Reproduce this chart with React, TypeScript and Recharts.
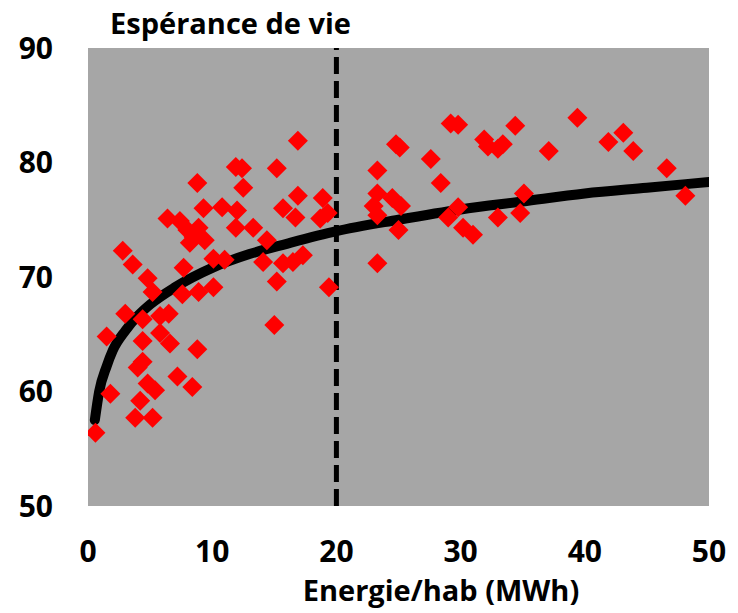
import React from 'react';
import { ComposedChart, Scatter, Line, XAxis, YAxis, CartesianGrid, ReferenceLine } from 'recharts';

// énergie par habitant (MWh) et espérance de vie (ans)
const energy = [
  11.9, 12.4, 8.8, 12.5, 6.4, 9.3, 10.8, 12.0, 7.4, 8.0, 8.9, 8.5, 9.4, 8.2, 11.9, 13.3,
  2.8, 3.6, 4.8, 7.7, 10.1, 11.0, 5.2, 7.6, 8.9, 10.1, 3.0, 4.4, 5.8, 6.5, 1.5, 5.8,
  4.4, 6.6, 8.8, 4.4, 4.0, 7.2, 4.8, 5.4, 8.4, 4.2, 1.8, 3.8, 5.2, 0.6,
  16.9, 15.2, 14.4, 16.9, 18.9, 15.7, 16.7, 18.7, 19.3, 14.1, 15.7, 16.5, 17.3, 15.2, 19.4, 15.0,
  23.3, 24.8, 25.1, 23.3, 23.0, 24.5, 25.2, 23.3, 25.0, 23.3, 27.6, 28.4,
  29.2, 29.8, 34.4, 39.4, 31.9, 32.2, 33.0, 33.4, 37.1, 41.9, 43.1, 43.9, 46.6, 48.1,
  35.1, 29.8, 29.0, 30.2, 31.0, 33.0, 34.8,
];
const lifeExp = [
  79.6, 79.5, 78.2, 77.8, 75.1, 76.0, 76.1, 75.8, 74.9, 74.1, 74.3, 73.5, 73.2, 73.0, 74.3, 74.3,
  72.3, 71.1, 69.9, 70.8, 71.6, 71.5, 68.7, 68.5, 68.7, 69.1, 66.8, 66.3, 66.6, 66.8, 64.8, 65.1,
  64.4, 64.2, 63.7, 62.6, 62.1, 61.3, 60.7, 60.1, 60.4, 59.2, 59.8, 57.7, 57.7, 56.4,
  81.9, 79.5, 73.2, 77.1, 76.9, 76.0, 75.2, 75.1, 75.6, 71.3, 71.2, 71.3, 71.9, 69.6, 69.1, 65.8,
  79.3, 81.6, 81.3, 77.3, 76.2, 76.9, 76.2, 75.4, 74.1, 71.2, 80.3, 78.2,
  83.4, 83.3, 83.2, 83.9, 82.0, 81.4, 81.2, 81.6, 81.0, 81.8, 82.6, 81.0, 79.5, 77.1,
  77.3, 76.1, 75.2, 74.3, 73.7, 75.2, 75.6,
];

// courbe de tendance
const fitEnergy = [0.55, 0.9, 1.5, 2, 3, 4, 5, 7, 10, 13, 16, 20, 25, 30, 35, 40, 45, 50];
const fitLife = [57.5, 60.0, 62.2, 63.6, 65.3, 66.6, 67.6, 69.1, 70.8, 72.0, 72.9, 74.0, 75.0, 75.9, 76.6, 77.3, 77.8, 78.3];

const xTicks = [0, 10, 20, 30, 40, 50];
const yTicks = [50, 60, 70, 80, 90];

const points = energy.map((x, i) => ({ x, y: lifeExp[i] }));
const fit = fitEnergy.map((x, i) => ({ x, y: fitLife[i] }));

const FONT = '"Open Sans", sans-serif';
const tickStyle = { fontFamily: FONT, fontWeight: 700, fontSize: 30, fill: '#000' };

const Diamond = (props: any) => {
  const { cx, cy } = props;
  const r = 10;
  return (
    <polygon
      points={`${cx},${cy - r} ${cx + r},${cy} ${cx},${cy + r} ${cx - r},${cy}`}
      fill="#ff0000"
    />
  );
};

const Title = () => (
  <text x={110} y={34} fontFamily={FONT} fontWeight={700} fontSize={29} fill="#000">
    Espérance de vie
  </text>
);

const XTitle = () => (
  <text x={441} y={601} textAnchor="middle" fontFamily={FONT} fontWeight={700} fontSize={29} fill="#000">
    Energie/hab (MWh)
  </text>
);

export default function App() {
  return (
    <div style={{ position: 'absolute', left: 0, top: 0 }}>
      <ComposedChart width={738} height={613} margin={{ top: 48, right: 29, bottom: 0, left: 0 }}>
        <CartesianGrid fill="#a6a6a6" fillOpacity={1} stroke="none" horizontal={false} vertical={false} />
        <XAxis
          type="number"
          dataKey="x"
          domain={[0, 50]}
          ticks={xTicks}
          axisLine={false}
          tickLine={false}
          tickSize={0}
          tickMargin={35}
          height={107}
          tick={tickStyle}
          allowDataOverflow
          label={{ content: () => <XTitle /> }}
        />
        <YAxis
          type="number"
          dataKey="y"
          domain={[50, 90]}
          ticks={yTicks}
          axisLine={false}
          tickLine={false}
          tickSize={0}
          tickMargin={35}
          width={88}
          tick={tickStyle}
          allowDataOverflow
          label={{ content: () => <Title /> }}
        />
        <Scatter data={points} dataKey="y" shape={<Diamond />} isAnimationActive={false} />
        <Line
          data={fit}
          dataKey="y"
          type="monotone"
          stroke="#000"
          strokeWidth={10}
          strokeLinecap="round"
          dot={false}
          activeDot={false}
          isAnimationActive={false}
        />
        <ReferenceLine x={20} stroke="#000" strokeWidth={5} strokeDasharray="17 7" />
      </ComposedChart>
    </div>
  );
}
